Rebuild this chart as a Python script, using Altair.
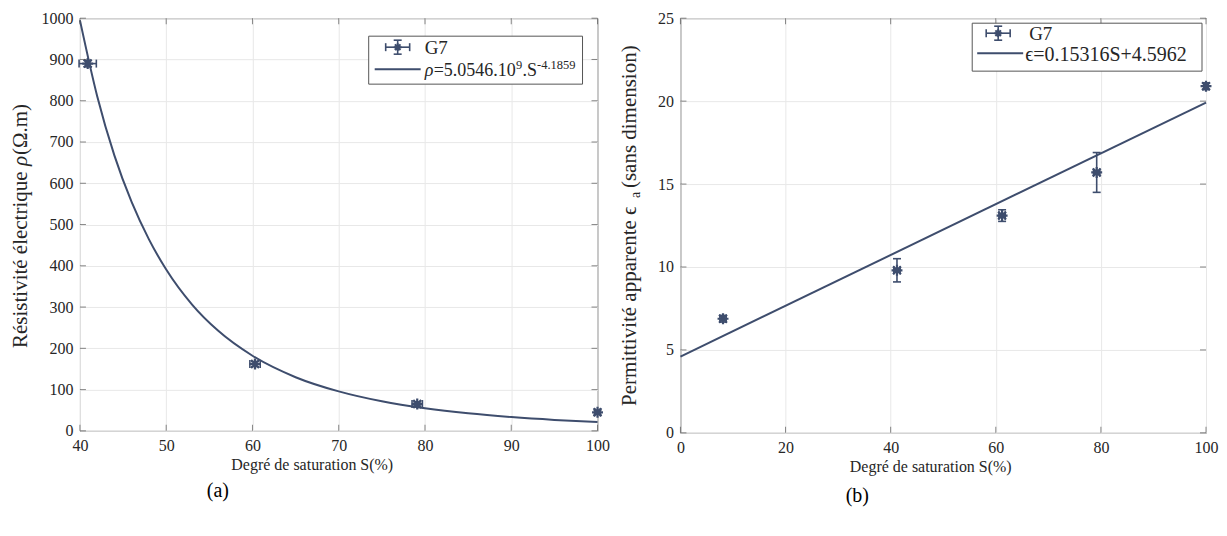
import altair as alt
import pandas as pd

# ---------------- data ----------------
rho_S = [40.9, 60.3, 79.1, 100.0]
rho_val = [890.0, 162.0, 65.0, 45.0]
rho_S_err = [1.0, 0.6, 0.6, 0.3]
rho_val_err = [8.0, 6.0, 5.0, 5.0]

fit_rho_S = [40, 42, 44, 46, 48, 50, 53, 56, 60, 65, 70, 75, 80, 85, 90, 95, 100]
fit_rho_val = [995, 811, 667, 554, 464, 391, 306, 243, 182, 130, 95.6, 71.6, 54.7, 42.4, 33.4, 26.6, 21.5]

eps_S = [8.1, 41.2, 61.2, 79.2, 100.0]
eps_val = [6.88, 9.8, 13.1, 15.7, 20.9]
eps_S_err = [0.6, 0.6, 0.6, 0.6, 0.4]
eps_val_err = [0.2, 0.7, 0.35, 1.2, 0.2]

fit_eps_S = [0.0, 100.0]
fit_eps_val = [4.5962, 19.9122]

xticks_a = [40, 50, 60, 70, 80, 90, 100]
yticks_a = [0, 100, 200, 300, 400, 500, 600, 700, 800, 900, 1000]
xticks_b = [0, 20, 40, 60, 80, 100]
yticks_b = [0, 5, 10, 15, 20, 25]

COLOR = "#3e4d6d"
FONT = "Liberation Serif"
FRAME = "#555555"
TEXT = "#262626"
ASTER = "M-1,0H1M0,-1V1M-0.72,-0.72L0.72,0.72M-0.72,0.72L0.72,-0.72"
HCAP = "M-1,0H1"
VCAP = "M0,-1V1"
one = pd.DataFrame({"k": [0]})


def txt(x, y, s, size=16, style="normal", align="left", angle=0, color=TEXT):
    kw = dict(align=align, baseline="middle", font=FONT, fontSize=size, fontStyle=style, color=color)
    if angle:
        kw["angle"] = angle
    return alt.Chart(one).mark_text(**kw).encode(x=alt.value(x), y=alt.value(y), text=alt.value(s))


def panel(S, V, S_err, V_err, fit_S, fit_V, xdom, ydom, xt, yt, W, H,
          xtitle, xtitle_x, ytitle_parts, caption, cap_x, cap_y, leg, eq_parts):
    xs = alt.Scale(domain=xdom, nice=False, zero=False)
    ys = alt.Scale(domain=ydom, nice=False, zero=False)
    common = dict(grid=True, ticks=False, domain=False, format="d",
                  labelFlush=False, labelOverlap=False,
                  labelFont=FONT, labelFontSize=16, labelColor=TEXT,
                  titleFont=FONT, titleFontSize=16, titleColor=TEXT, titleFontWeight="normal",
                  gridColor="#e8e8e8", gridWidth=1)
    xaxis = alt.Axis(values=xt, title=xtitle, labelPadding=7, titleX=xtitle_x, titleY=34,
                     titleBaseline="middle", **common)
    yaxis = alt.Axis(values=yt, title=None, labelPadding=7, **common)

    def X(f):
        return alt.X(f, type="quantitative", scale=xs, axis=xaxis)

    def Y(f):
        return alt.Y(f, type="quantitative", scale=ys, axis=yaxis)

    pts = pd.DataFrame({
        "S": S, "v": V,
        "slo": [s - e for s, e in zip(S, S_err)], "shi": [s + e for s, e in zip(S, S_err)],
        "vlo": [v - e for v, e in zip(V, V_err)], "vhi": [v + e for v, e in zip(V, V_err)],
    })
    vcaps = pd.DataFrame({"S": list(pts["S"]) * 2, "v": list(pts["vlo"]) + list(pts["vhi"])})
    hcaps = pd.DataFrame({"S": list(pts["slo"]) + list(pts["shi"]), "v": list(pts["v"]) * 2})
    fit = pd.DataFrame({"S": fit_S, "v": fit_V})
    xtk = pd.DataFrame({"t": xt})
    ytk = pd.DataFrame({"t": yt})

    layers = [
        alt.Chart(fit).mark_line(color=COLOR, strokeWidth=2, interpolate="monotone").encode(x=X("S"), y=Y("v")),
        alt.Chart(pts).mark_rule(color=COLOR, strokeWidth=1.6).encode(x=X("S"), y=Y("vlo"), y2="vhi"),
        alt.Chart(pts).mark_rule(color=COLOR, strokeWidth=1.6).encode(x=X("slo"), x2="shi", y=Y("v")),
        alt.Chart(vcaps).mark_point(shape=HCAP, size=64, strokeWidth=1.6, color=COLOR, filled=False, opacity=1).encode(x=X("S"), y=Y("v")),
        alt.Chart(hcaps).mark_point(shape=VCAP, size=64, strokeWidth=1.6, color=COLOR, filled=False, opacity=1).encode(x=X("S"), y=Y("v")),
        alt.Chart(pts).mark_point(shape=ASTER, size=120, strokeWidth=2.2, color=COLOR, filled=False, opacity=1).encode(x=X("S"), y=Y("v")),
        # inward ticks on all four sides
        alt.Chart(xtk).mark_tick(color=FRAME, size=6, thickness=1, orient="vertical").encode(x=X("t"), y=alt.value(H - 3)),
        alt.Chart(xtk).mark_tick(color=FRAME, size=6, thickness=1, orient="vertical").encode(x=X("t"), y=alt.value(3)),
        alt.Chart(ytk).mark_tick(color=FRAME, size=6, thickness=1, orient="horizontal").encode(y=Y("t"), x=alt.value(3)),
        alt.Chart(ytk).mark_tick(color=FRAME, size=6, thickness=1, orient="horizontal").encode(y=Y("t"), x=alt.value(W - 3)),
    ]

    # legend box
    bx0, by0, bx1, by1, sx, sy, lx0, lx1, ly, tx = leg
    layers += [
        alt.Chart(one).mark_rect(fill="white", stroke=FRAME, strokeWidth=1).encode(
            x=alt.value(bx0), x2=alt.value(bx1), y=alt.value(by0), y2=alt.value(by1)),
        alt.Chart(one).mark_rule(color=COLOR, strokeWidth=1.6).encode(
            x=alt.value(sx - 12), x2=alt.value(sx + 12), y=alt.value(sy)),
        alt.Chart(one).mark_rule(color=COLOR, strokeWidth=1.6).encode(
            x=alt.value(sx), y=alt.value(sy - 7), y2=alt.value(sy + 7)),
        alt.Chart(one).mark_rule(color=COLOR, strokeWidth=1.6).encode(
            x=alt.value(sx - 12), y=alt.value(sy - 4), y2=alt.value(sy + 4)),
        alt.Chart(one).mark_rule(color=COLOR, strokeWidth=1.6).encode(
            x=alt.value(sx + 12), y=alt.value(sy - 4), y2=alt.value(sy + 4)),
        alt.Chart(one).mark_rule(color=COLOR, strokeWidth=1.6).encode(
            x=alt.value(sx - 4), x2=alt.value(sx + 4), y=alt.value(sy - 7)),
        alt.Chart(one).mark_rule(color=COLOR, strokeWidth=1.6).encode(
            x=alt.value(sx - 4), x2=alt.value(sx + 4), y=alt.value(sy + 7)),
        alt.Chart(one).mark_point(shape=ASTER, size=60, strokeWidth=2, color=COLOR, filled=False, opacity=1).encode(
            x=alt.value(sx), y=alt.value(sy)),
        txt(tx, sy + 1, "G7", size=19),
        alt.Chart(one).mark_rule(color=COLOR, strokeWidth=2).encode(
            x=alt.value(lx0), x2=alt.value(lx1), y=alt.value(ly)),
    ]
    for s, dx, size, dy, style in eq_parts:
        layers.append(txt(tx + dx, ly + dy, s, size=size, style=style))
    # rotated y-axis title made of parts (reads bottom to top)
    for s, px, py, size, style in ytitle_parts:
        layers.append(txt(px, py, s, size=size, style=style, angle=270))
    layers.append(txt(cap_x, cap_y, caption, size=20, align="center", color="#000000"))
    return alt.layer(*layers).properties(width=W, height=H)


WA, HA = 518, 413
WB, HB = 526, 415

eq_a = [("ρ", 0, 18, 2, "italic"), ("=5.0546.10", 9, 18, 2, "normal"), ("9", 91.5, 12.5, -4, "normal"),
        (".S", 98, 18, 2, "normal"), ("-4.1859", 112.5, 12.5, -4, "normal")]
eq_b = [("ϵ=0.15316S+4.5962", -4, 20, 2, "normal")]

ytitle_a = [("Résistivité électrique ", -59, 330, 21, "normal"),
            ("ρ", -59, 148, 21, "italic"),
            ("(Ω.m)", -59, 137, 21, "normal")]
ytitle_b = [("Permittivité apparente ϵ", -50, 388, 21, "normal"),
            ("a", -44, 180, 14, "normal"),
            (" (sans dimension)", -50, 170, 21, "normal")]

a = panel(rho_S, rho_val, rho_S_err, rho_val_err, fit_rho_S, fit_rho_val,
          [40, 100], [0, 1000], xticks_a, yticks_a, WA, HA,
          "Degré de saturation S(%)", 232, ytitle_a,
          "(a)", 138, 473,
          (289, 18, 503, 66, 318, 29, 295, 341, 51, 345), eq_a)

b = panel(eps_S, eps_val, eps_S_err, eps_val_err, fit_eps_S, fit_eps_val,
          [0, 100], [0, 25], xticks_b, yticks_b, WB, HB,
          "Degré de saturation S(%)", 250, ytitle_b,
          "(b)", 177, 478,
          (292, 5, 522, 53, 318, 15, 297, 343, 35, 349), eq_b)

chart = alt.hconcat(a, b, spacing=8).properties(
    padding={"left": 1, "top": 1, "right": 0, "bottom": 0},
    background="white"
).configure_view(
    stroke=FRAME, strokeWidth=1
)

chart.save("out.html", embed_options={"renderer": "svg", "actions": False})
